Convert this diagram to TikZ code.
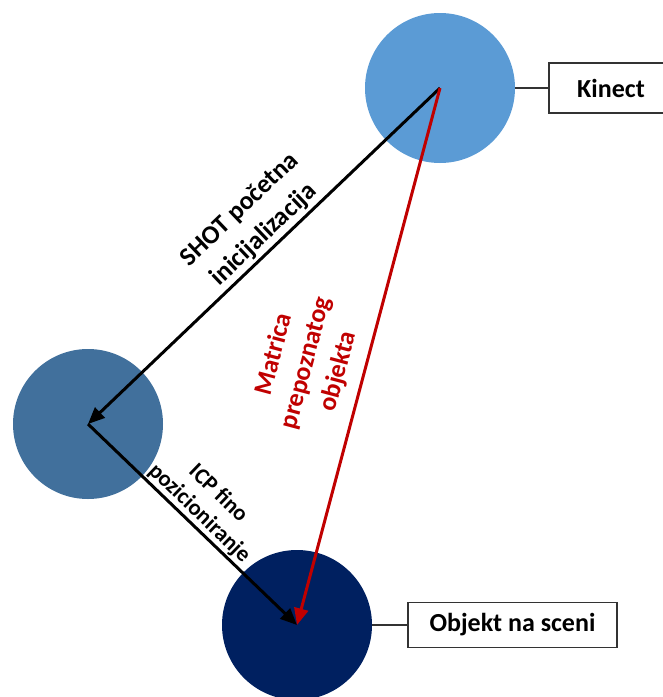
\documentclass[tikz,border=0pt]{standalone}
\usepackage{fontspec}
\setmainfont{Carlito}
\usepackage{xcolor}
\usetikzlibrary{arrows.meta, positioning}
\definecolor{kinectblue}{HTML}{5B9BD5}
\definecolor{midblue}{HTML}{41709C}
\definecolor{navyblue}{HTML}{002060}
\definecolor{darkred}{HTML}{C00000}

\begin{document}
\begin{tikzpicture}[x=0.75pt, y=-0.75pt,
  blob/.style={circle, minimum size=112.5pt, inner sep=0pt},
  tag/.style={draw=black!80, line width=1.1pt, fill=white, inner sep=0pt,
    font=\bfseries\fontsize{19.5}{23}\selectfont},
  arr/.style={line width=2.25pt, -{Triangle[length=12.5pt, width=10.5pt]}},
  lbl/.style={sloped, above, align=center, inner sep=2pt,
    font=\bfseries\fontsize{19.5}{26}\selectfont}]
  \useasboundingbox (0,0) rectangle (663,697);

  % poses
  \node[blob, fill=kinectblue] (kinect) at (440,88) {};
  \node[blob, fill=midblue] (mid) at (88,424) {};
  \node[blob, fill=navyblue] (obj) at (297,625) {};

  % tags
  \node[tag, minimum width=93pt, minimum height=37.5pt] (kinbox) at (611,88) {Kinect};
  \node[tag, minimum width=156.75pt, minimum height=33.75pt] (objbox) at (512.5,625) {Objekt na sceni};
  \draw[black!80, line width=1.1pt] (kinect.east) -- (kinbox.west);
  \draw[black!80, line width=1.1pt] (obj.east) -- (objbox.west);

  % transforms
  \draw[arr] (kinect.center) -- node[lbl, pos=0.47] {SHOT početna\\inicijalizacija} (mid.center);
  \draw[arr] (mid.center) -- node[lbl, pos=0.49, inner sep=1pt,
    font=\bfseries\fontsize{17}{20.5}\selectfont] {ICP fino\\pozicioniranje} (obj.center);
  \draw[arr, darkred] (kinect.center) -- node[lbl, pos=0.54, inner sep=9pt, text=darkred,
    font=\bfseries\fontsize{19.5}{25}\selectfont] {Matrica\\prepoznatog\\objekta} (obj.center);
\end{tikzpicture}
\end{document}
